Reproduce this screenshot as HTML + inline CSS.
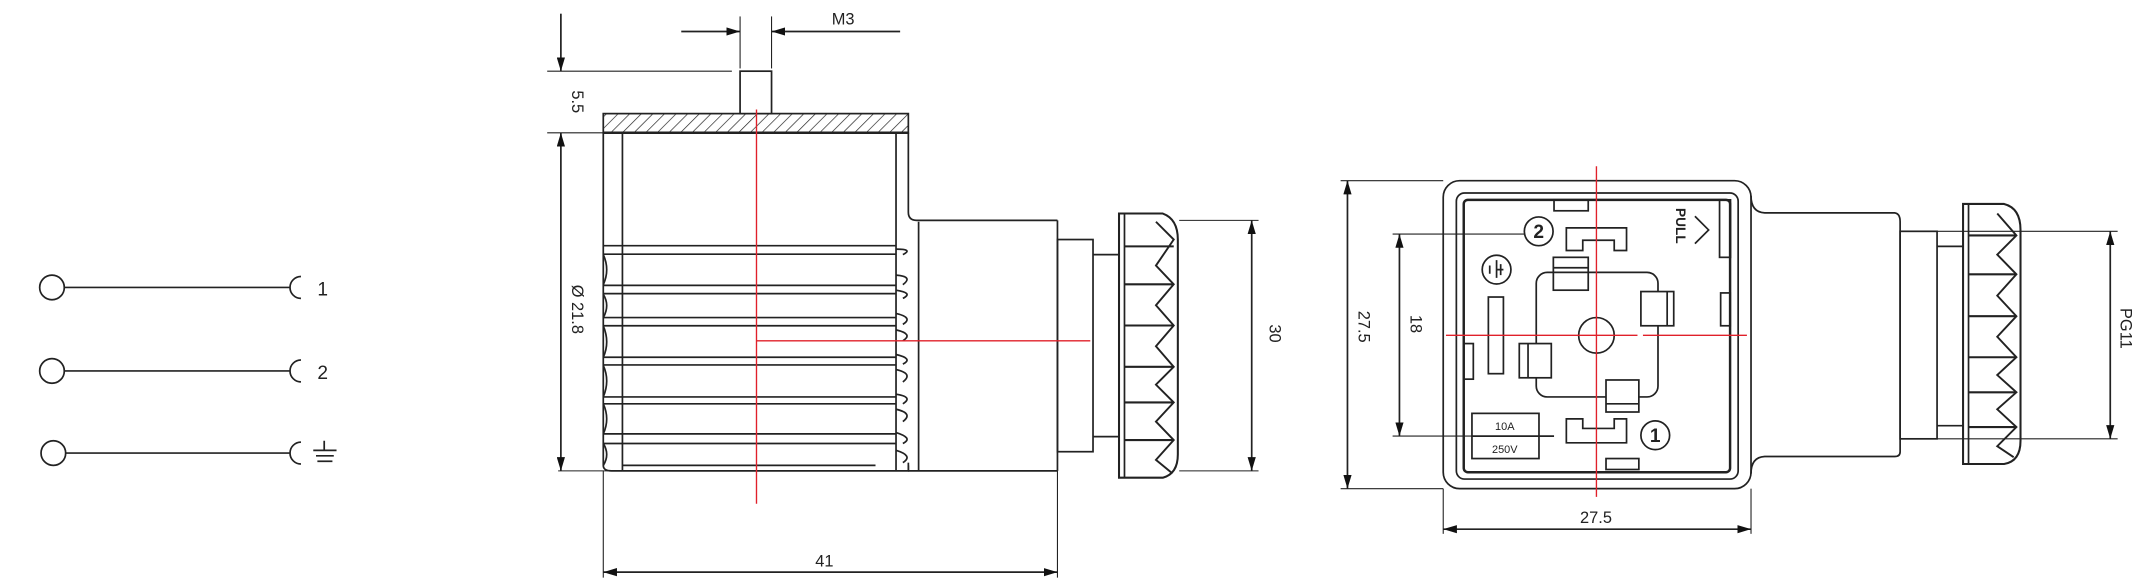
<!DOCTYPE html>
<html><head><meta charset="utf-8"><style>
html,body{margin:0;padding:0;background:#fff;}
svg{display:block;}
text{font-family:"Liberation Sans",sans-serif;fill:#222;}
</style></head><body>
<svg width="2145" height="579" viewBox="0 0 1568 423" preserveAspectRatio="none" xmlns="http://www.w3.org/2000/svg">
<defs>
<marker id="a" viewBox="0 0 10 6" refX="10" refY="3" markerWidth="10" markerHeight="6" markerUnits="userSpaceOnUse" orient="auto-start-reverse"><path d="M0,0 L10,3 L0,6 z" fill="#111"/></marker>
<pattern id="h" width="6" height="6" patternUnits="userSpaceOnUse" patternTransform="rotate(45)"><line x1="0" y1="0" x2="0" y2="6" stroke="#222" stroke-width="1"/></pattern>
</defs>
<g fill="none" stroke="#222" stroke-width="1.25">
<circle cx="38" cy="210" r="9"/><line x1="47" y1="210" x2="212" y2="210"/><path d="M220,202 A8,8 0 0 0 220,218"/>
<circle cx="38" cy="271" r="9"/><line x1="47" y1="271" x2="212" y2="271"/><path d="M220,263 A8,8 0 0 0 220,279"/>
<circle cx="39" cy="331" r="9"/><line x1="48" y1="331" x2="212" y2="331"/><path d="M220,323 A8,8 0 0 0 220,339"/>
<line x1="237" y1="322" x2="237" y2="329"/><line x1="229" y1="329" x2="246" y2="329"/><line x1="231" y1="333" x2="244" y2="333"/><line x1="232" y1="337" x2="243" y2="337"/>

<rect x="441" y="83" width="223" height="14" fill="url(#h)"/>
<rect x="541" y="52" width="23" height="31" fill="#fff"/>
<line x1="441" y1="97" x2="664" y2="97" stroke-width="1.8"/>
<path d="M441,97 V340 Q441,344 447,344 H455"/>
<line x1="455" y1="97" x2="455" y2="344"/>
<line x1="655" y1="97" x2="655" y2="344"/>
<path d="M664,97 V155 Q664,161 670,161 H773"/>
<line x1="671.5" y1="162" x2="671.5" y2="344"/>
<path d="M455,344 H664 Q664,344 664,340"/>
<line x1="455" y1="340" x2="640" y2="340"/>
<line x1="664" y1="338" x2="664" y2="344"/><line x1="664" y1="344" x2="773" y2="344"/>
<g>
<line x1="441" y1="179.5" x2="655" y2="179.5"/><line x1="441" y1="185.7" x2="655" y2="185.7"/>
<line x1="441" y1="208.5" x2="655" y2="208.5"/><line x1="441" y1="214.5" x2="655" y2="214.5"/>
<line x1="441" y1="232" x2="655" y2="232"/><line x1="441" y1="238" x2="655" y2="238"/>
<line x1="441" y1="261" x2="655" y2="261"/><line x1="441" y1="266.6" x2="655" y2="266.6"/>
<line x1="441" y1="290" x2="655" y2="290"/><line x1="441" y1="295" x2="655" y2="295"/>
<line x1="441" y1="317" x2="655" y2="317"/><line x1="441" y1="324" x2="655" y2="324"/>
<path d="M655,182 Q668,182 660,186 M655,201 Q668,202 660,208 M655,212 Q668,214 660,218 M655,229 Q668,232 660,237 M655,241 Q668,244 660,249 M655,259 Q668,262 660,266 M655,270 Q668,273 660,279 M655,288 Q668,290 660,295 M655,299 Q668,302 660,308 M655,316 Q668,320 660,324 M655,329 Q668,333 660,338"/>
<path d="M441,186 Q446,197 441,208 M441,215 Q446,223 441,232 M441,238 Q446,250 441,261 M441,267 Q446,278 441,290 M441,295 Q446,306 441,317 M441,324 Q446,332 441,340"/>
</g>
<line x1="773" y1="161" x2="773" y2="344"/>
<rect x="773" y="175" width="26" height="155"/>
<line x1="799" y1="186" x2="818" y2="186"/><line x1="799" y1="319" x2="818" y2="319"/>
<path d="M818,156 H850 Q861,160 861,175 V332 Q861,346 850,349 H818 Z" stroke-width="1.5"/>
<line x1="822" y1="156" x2="822" y2="349"/>
<path d="M822,180 H858 M822,207.7 H858 M822,237.8 H858 M822,268 H858 M822,294 H858 M822,321.5 H858" stroke-width="1.5"/>
<polyline points="845,162 858,175 845,194 858,207.7 845,223 858,237.8 845,253 858,268 845,281 858,294 845,308 858,321.5 845,336 856,345" stroke-width="1.4"/>
<line x1="410" y1="10" x2="410" y2="52" marker-end="url(#a)"/>
<line x1="410" y1="97" x2="410" y2="344" marker-start="url(#a)" marker-end="url(#a)"/>
<line x1="400" y1="52" x2="535" y2="52" stroke-width="0.8"/>
<line x1="400" y1="97" x2="441" y2="97" stroke-width="0.8"/>
<line x1="408" y1="344" x2="455" y2="344" stroke-width="0.8"/>
<line x1="541" y1="12" x2="541" y2="50" stroke-width="0.8"/><line x1="564" y1="12" x2="564" y2="50" stroke-width="0.8"/>
<line x1="498" y1="23" x2="541" y2="23" marker-end="url(#a)"/>
<line x1="658" y1="23" x2="564" y2="23" marker-end="url(#a)"/>
<line x1="441" y1="344" x2="441" y2="422" stroke-width="0.8"/><line x1="773" y1="344" x2="773" y2="422" stroke-width="0.8"/>
<line x1="441" y1="418" x2="773" y2="418" marker-start="url(#a)" marker-end="url(#a)"/>
<line x1="862" y1="161" x2="920" y2="161" stroke-width="0.8"/><line x1="862" y1="344" x2="920" y2="344" stroke-width="0.8"/>
<line x1="915" y1="161" x2="915" y2="344" marker-start="url(#a)" marker-end="url(#a)"/>

<rect x="1055" y="132" width="225" height="225" rx="12"/>
<rect x="1064.6" y="141" width="206" height="209" rx="6"/>
<rect x="1070" y="146" width="194.7" height="199" rx="3" stroke-width="1.8"/>
<rect x="1136" y="146" width="25" height="8"/>
<circle cx="1124.8" cy="169" r="10.5"/>
<path d="M1145,166.5 H1189 V183 H1180 V175.5 H1157 V183 H1145 Z"/>
<path d="M1239,158 L1249,168 L1239,178" />
<rect x="1257" y="146" width="8" height="42"/>
<circle cx="1094" cy="197" r="10.5"/>
<path d="M1094,190 V203 M1089,194 V200 M1094,197 H1099 M1097,193 V201"/>
<rect x="1135.5" y="188" width="25.5" height="24"/><line x1="1135.5" y1="195.6" x2="1161" y2="195.6"/>
<rect x="1123" y="199" width="89" height="91" rx="8"/>
<rect x="1199.5" y="213" width="24" height="25" fill="#fff"/><line x1="1218.7" y1="213" x2="1218.7" y2="238"/>
<rect x="1257.8" y="214" width="7" height="24"/>
<ellipse cx="1167" cy="245" rx="13" ry="13"/>
<rect x="1088" y="217" width="11" height="56"/>
<rect x="1070" y="251" width="7" height="26"/>
<rect x="1110.6" y="251" width="23.4" height="25" fill="#fff"/><line x1="1117" y1="251" x2="1117" y2="276"/>
<rect x="1174" y="277.6" width="24" height="23.4" fill="#fff"/><line x1="1174" y1="295" x2="1198" y2="295"/>
<path d="M1145,306 H1157 V313 H1180 V306 H1189 V323.5 H1145 Z"/>
<circle cx="1210" cy="318" r="10.5"/>
<rect x="1076" y="302" width="49" height="33"/><line x1="1076" y1="318.6" x2="1136" y2="318.6"/>
<rect x="1174" y="335" width="24" height="8"/>
<path d="M1280,143 Q1280,155 1290,155.5 H1385 Q1389,156 1389,162 V330 Q1389,333.5 1385,333.5 H1290 Q1280,334 1280,346"/>
<rect x="1389" y="169" width="27" height="151.6"/>
<line x1="1416" y1="180" x2="1435" y2="180"/><line x1="1416" y1="311" x2="1435" y2="311"/>
<path d="M1435,149 H1465 Q1477,152 1477,168 V322 Q1477,337 1465,339 H1435 Z" stroke-width="1.5"/>
<line x1="1439" y1="149" x2="1439" y2="339"/>
<path d="M1439,172 H1474 M1439,200.4 H1474 M1439,231 H1474 M1439,261 H1474 M1439,286.6 H1474 M1439,312 H1474" stroke-width="1.5"/>
<polyline points="1460,156 1474,172 1460,186 1474,200.4 1460,216 1474,231 1460,246 1474,261 1460,274 1474,286.6 1460,299 1474,312 1460,326 1472,334" stroke-width="1.4"/>
<line x1="980" y1="132" x2="1055" y2="132" stroke-width="0.8"/><line x1="980" y1="357" x2="1055" y2="357" stroke-width="0.8"/>
<line x1="985" y1="132" x2="985" y2="357" marker-start="url(#a)" marker-end="url(#a)"/>
<line x1="1018" y1="171" x2="1115" y2="171" stroke-width="0.8"/><line x1="1018" y1="318.6" x2="1136" y2="318.6" stroke-width="0.8"/>
<line x1="1023" y1="171" x2="1023" y2="318.6" marker-start="url(#a)" marker-end="url(#a)"/>
<line x1="1055" y1="357" x2="1055" y2="390" stroke-width="0.8"/><line x1="1280" y1="357" x2="1280" y2="390" stroke-width="0.8"/>
<line x1="1055" y1="386.6" x2="1280" y2="386.6" marker-start="url(#a)" marker-end="url(#a)"/>
<line x1="1416" y1="169" x2="1548" y2="169" stroke-width="0.8"/><line x1="1416" y1="320.6" x2="1548" y2="320.6" stroke-width="0.8"/>
<line x1="1542.6" y1="169" x2="1542.6" y2="320.6" marker-start="url(#a)" marker-end="url(#a)"/>
</g>
<g stroke="#e0202a" stroke-width="1">
<line x1="553" y1="80" x2="553" y2="368"/><line x1="553" y1="249" x2="797" y2="249"/>
<line x1="1167" y1="121.5" x2="1167" y2="363"/><line x1="1057" y1="245" x2="1197" y2="245"/><line x1="1201" y1="245" x2="1277" y2="245"/>
</g>
<g font-size="14">
<text x="232" y="216">1</text><text x="232" y="277">2</text>
<text x="608" y="18" font-size="12">M3</text>
<text x="596" y="414" font-size="12">41</text>
<text x="1155" y="382" font-size="12">27.5</text>
</g>
<g font-size="12">
<text transform="translate(418,66) rotate(90)">5.5</text>
<text transform="translate(418,208) rotate(90)">Ø 21.8</text>
<text transform="translate(928,237) rotate(90)">30</text>
<text transform="translate(993,227) rotate(90)">27.5</text>
<text transform="translate(1031,230) rotate(90)">18</text>
<text transform="translate(1550,225) rotate(90)">PG11</text>
<text transform="translate(1225,152) rotate(90)" font-size="10" font-weight="bold">PULL</text>
</g>
<g font-size="14" text-anchor="middle" font-weight="bold">
<text x="1124.8" y="174">2</text><text x="1210" y="323">1</text>
</g>
<g font-size="8" text-anchor="middle">
<text x="1100" y="314">10A</text><text x="1100" y="331">250V</text>
</g>
</svg>
</body></html>
